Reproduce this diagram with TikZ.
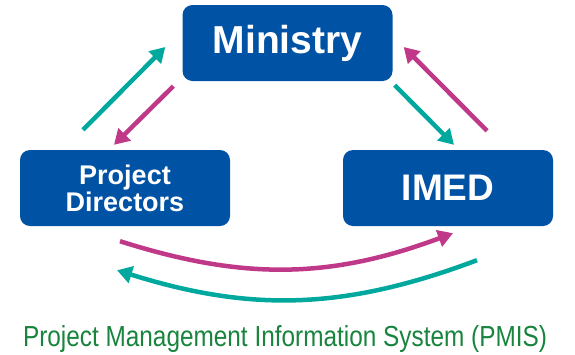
\documentclass[tikz,border=0pt]{standalone}
\usepackage{fontspec}
\setmainfont{Liberation Sans}
\usetikzlibrary{arrows.meta}

\definecolor{boxblue}{RGB}{0,82,164}
\definecolor{flowteal}{RGB}{0,168,158}
\definecolor{flowpink}{RGB}{192,56,136}
\definecolor{titlegreen}{RGB}{24,132,62}

\begin{document}
\begin{tikzpicture}[x=1pt,y=-1pt,
		party/.style={fill=boxblue,rounded corners=10pt,minimum width=210pt,minimum height=76pt,inner sep=0pt,text=white},
		tealflow/.style={flowteal,line width=4.5pt,-{Triangle[length=15pt,width=17pt]}},
		pinkflow/.style={flowpink,line width=4.5pt,-{Triangle[length=15pt,width=17pt]}}]
		\useasboundingbox (0,0) rectangle (575,354);

		\node[party,font=\fontsize{39}{39}\selectfont\bfseries] (M) at (287.5,43) {Ministry};
		\node[party,font=\fontsize{27}{27}\selectfont\bfseries,align=center] (PD) at (125,188) {Project\\Directors};
		\node[party,font=\fontsize{37}{37}\selectfont\bfseries] (IMED) at (448,188) {IMED};

		\path[tealflow] ([xshift=-42pt,yshift=20pt]PD.north) edge ([xshift=-17pt,yshift=-4pt]M.west);
		\path[pinkflow] ([xshift=-9pt,yshift=-5pt]M.south west) edge ([xshift=-11pt,yshift=5pt]PD.north);
		\path[tealflow] ([xshift=2pt,yshift=-4pt]M.south east) edge ([xshift=6pt,yshift=5pt]IMED.north);
		\path[pinkflow] ([xshift=39pt,yshift=19pt]IMED.north) edge ([xshift=11pt,yshift=-4pt]M.east);

		% round trip between the two lower boxes
		\path[pinkflow] ([xshift=-5pt,yshift=-15pt]PD.south) edge[bend right=19] ([xshift=5pt,yshift=-7pt]IMED.south);
		\path[tealflow] ([xshift=29pt,yshift=-34pt]IMED.south) edge[bend left=19] ([xshift=-8pt,yshift=-44pt]PD.south);

		\node[titlegreen,font=\fontsize{29}{29}\selectfont,xscale=0.84,anchor=base] (pmis) at (285,346) {Project Management Information System (PMIS)};
	\end{tikzpicture}
\end{document}
